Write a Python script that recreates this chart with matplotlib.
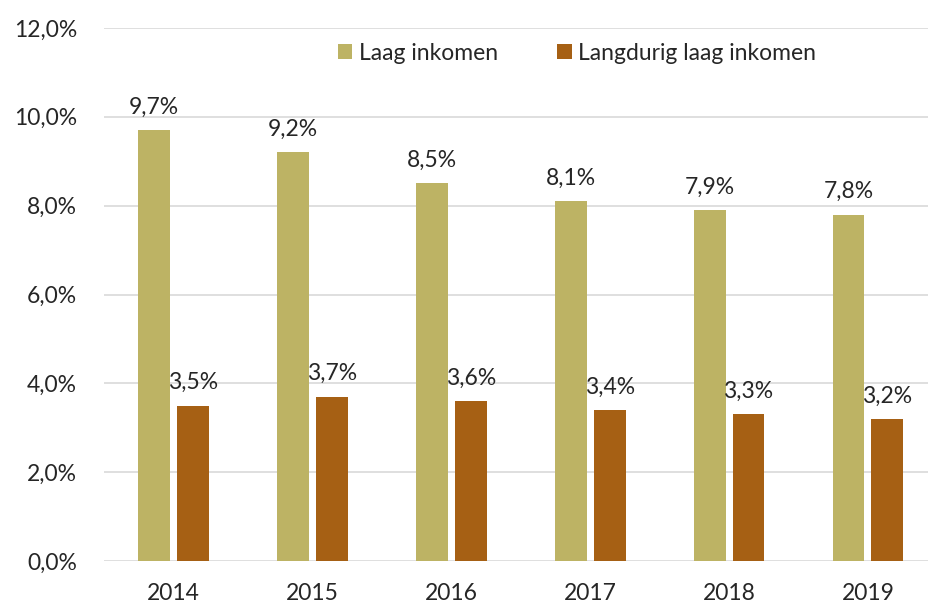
import matplotlib
matplotlib.use("Agg")
import matplotlib.pyplot as plt
import numpy as np

years = ["2014", "2015", "2016", "2017", "2018", "2019"]
laag = [9.7, 9.2, 8.5, 8.1, 7.9, 7.8]
langdurig = [3.5, 3.7, 3.6, 3.4, 3.3, 3.2]
series_names = ["Laag inkomen", "Langdurig laag inkomen"]
yticks = [0, 2, 4, 6, 8, 10, 12]

c_olive = "#BDB364"
c_brown = "#A66014"
txt = "#262626"

plt.rcParams['font.family'] = ['Lato', 'DejaVu Sans']
FS = 16.5

W, H = 929, 606
fig = plt.figure(figsize=(W / 100, H / 100), dpi=100)
AXW = W - 104
ax = fig.add_axes([104 / W, 45 / H, AXW / W, 533 / H])

x = np.arange(len(years))
bw = 0.23
off = 0.14
b1 = ax.bar(x - off, laag, bw, color=c_olive, label=series_names[0], zorder=3)
b2 = ax.bar(x + off, langdurig, bw, color=c_brown, label=series_names[1], zorder=3)

def fmt(v):
    return f"{v:.1f}%".replace(".", ",")

for bars, vals in ((b1, laag), (b2, langdurig)):
    for r, v in zip(bars, vals):
        ax.annotate(fmt(v), (r.get_x() + r.get_width() / 2, v),
                    xytext=(0, 9), textcoords="offset points",
                    ha="center", va="bottom", fontsize=FS, color=txt)

ax.set_ylim(0, 12)
ax.set_yticks(yticks)
ax.set_yticklabels([fmt(t) for t in yticks])
ax.set_xlim(-0.5, AXW / 138.9 - 0.5)
ax.set_xticks(x)
ax.set_xticklabels(years)
ax.tick_params(axis="both", length=0, labelsize=FS, colors=txt)
ax.tick_params(axis="y", pad=19.5)
ax.tick_params(axis="x", pad=16)
ax.grid(axis="y", color="#D9D9D9", linewidth=1.2, zorder=0)
for s in ax.spines.values():
    s.set_visible(False)
ax.set_axisbelow(True)

leg = ax.legend(loc="center left", bbox_to_anchor=((338 - 104) / AXW, (561 - 53) / 533),
                ncol=2, frameon=False, fontsize=FS, handlelength=0.62,
                handleheight=0.62, handletextpad=0.28, columnspacing=2.6,
                borderpad=0, borderaxespad=0, labelcolor=txt)

fig.savefig("out.png", dpi=100, facecolor="white")
